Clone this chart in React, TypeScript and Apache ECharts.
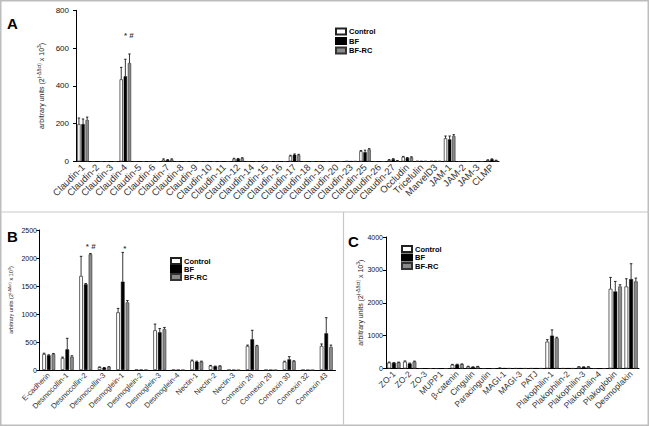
import React, { useEffect, useRef } from 'react';
import * as echarts from 'echarts';

const seriesNames = ['Control', 'BF', 'BF-RC'];

// ---------- Panel A ----------
const catsA = ['Claudin-1', 'Claudin-2', 'Claudin-3', 'Claudin-4', 'Claudin-5', 'Claudin-6', 'Claudin-7', 'Claudin-8', 'Claudin-9', 'Claudin-10', 'Claudin-11', 'Claudin-12', 'Claudin-14', 'Claudin-15', 'Claudin-16', 'Claudin-17', 'Claudin-18', 'Claudin-19', 'Claudin-20', 'Claudin-23', 'Claudin-25', 'Claudin-26', 'Claudin-27', 'Occludin', 'Tricelulin', 'MarvelD3', 'JAM-1', 'JAM-2', 'JAM-3', 'CLMP'];
const ctrlA = [198, 0, 0, 435, 0, 0, 10, 0, 0, 0, 0, 14, 0, 0, 0, 30, 0, 0, 0, 2, 55, 0, 8, 25, 3, 3, 123, 0, 0, 8];
const bfA = [198, 0, 0, 451, 0, 0, 8, 0, 0, 0, 0, 14, 0, 0, 0, 36, 0, 0, 0, 1, 49, 0, 12, 19, 3, 3, 117, 0, 0, 12];
const rcA = [220, 0, 0, 521, 0, 0, 11, 0, 0, 0, 0, 17, 0, 0, 0, 35, 0, 0, 0, 2, 64, 0, 4, 22, 3, 3, 135, 0, 0, 6];
const ctrlASd = [32, 0, 0, 63, 0, 0, 4, 0, 0, 0, 0, 3, 0, 0, 0, 3, 0, 0, 0, 0, 3, 0, 2, 2, 0, 0, 12, 0, 0, 1];
const bfASd = [27, 0, 0, 90, 0, 0, 2, 0, 0, 0, 0, 2, 0, 0, 0, 4, 0, 0, 0, 0, 11, 0, 3, 2, 0, 0, 18, 0, 0, 2];
const rcASd = [15, 0, 0, 48, 0, 0, 3, 0, 0, 0, 0, 3, 0, 0, 0, 3, 0, 0, 0, 0, 4, 0, 1, 3, 0, 0, 7, 0, 0, 1];
const ticksA = [0, 200, 400, 600, 800];

// ---------- Panel B ----------
const catsB = ['E-cadherin', 'Desmocollin-1', 'Desmocollin-2', 'Desmocollin-3', 'Desmoglein-1', 'Desmoglein-2', 'Desmoglein-3', 'Desmoglein-4', 'Nectin-1', 'Nectin-2', 'Nectin-3', 'Connexin 26', 'Connexin 29', 'Connexin 30', 'Connexin 32', 'Connexin 43'];
const ctrlB = [285, 214, 1679, 50, 1030, 5, 709, 2, 167, 77, 0, 429, 0, 149, 0, 429];
const bfB = [262, 369, 1530, 40, 1577, 5, 673, 2, 148, 65, 0, 548, 0, 190, 0, 655];
const rcB = [283, 238, 2066, 55, 1208, 5, 732, 2, 150, 70, 0, 429, 0, 157, 0, 411];
const ctrlBSd = [15, 16, 351, 5, 70, 0, 111, 0, 10, 5, 0, 16, 0, 8, 0, 36];
const bfBSd = [10, 197, 15, 5, 523, 0, 67, 0, 10, 5, 0, 161, 0, 48, 0, 279];
const rcBSd = [12, 17, 14, 5, 32, 0, 28, 0, 8, 5, 0, 11, 0, 8, 0, 34];
const ticksB = [0, 500, 1000, 1500, 2000, 2500];

// ---------- Panel C ----------
const catsC = ['ZO-1', 'ZO-2', 'ZO-3', 'MUPP1', 'β-catenin', 'Cingulin', 'Paracingulin', 'MAGI-1', 'MAGI-3', 'PATJ', 'Plakophilin-1', 'Plakophilin-2', 'Plakophilin-3', 'Plakophilin-4', 'Plakoglobin', 'Desmoplakin'];
const ctrlC = [180, 210, 0, 0, 115, 60, 0, 12, 5, 5, 818, 5, 50, 0, 2425, 2495];
const bfC = [170, 150, 0, 0, 120, 45, 0, 8, 5, 5, 1000, 5, 45, 0, 2343, 2720];
const rcC = [185, 210, 0, 0, 130, 60, 0, 6, 5, 5, 921, 5, 50, 0, 2495, 2648];
const ctrlCSd = [15, 20, 0, 0, 10, 10, 0, 3, 0, 0, 60, 0, 5, 0, 345, 235];
const bfCSd = [10, 15, 0, 0, 10, 5, 0, 0, 0, 0, 175, 0, 5, 0, 305, 467];
const rcCSd = [10, 15, 0, 0, 10, 5, 0, 0, 0, 0, 30, 0, 5, 0, 52, 102];
const ticksC = [0, 1000, 2000, 3000, 4000];

// annotations: [category index, value, text]
const annA = [[3, 665, '* #']];
const annB = [[2, 2200, '* #'], [4, 2173, '*']];

const FONT = 'Liberation Sans, Arial, Helvetica, sans-serif';
const barStyles = [
  { color: '#ffffff', borderColor: '#222', borderWidth: 0.7 },
  { color: '#000000', borderColor: '#000', borderWidth: 0.5 },
  { color: '#8a8a8a', borderColor: '#333', borderWidth: 0.6 },
];

const yName = 'arbitrary units (2{s|(-ΔΔct)} x 10{s|3})';

function panelSeries(g: number, vals: number[][], sds: number[][], bw: number, gapRatio: number, capW: number) {
  const out: any[] = [];
  vals.forEach((v, i) => {
    out.push({
      type: 'bar', name: seriesNames[i], xAxisIndex: g, yAxisIndex: g,
      data: v, barWidth: bw, barGap: gapRatio * 100 + '%',
      itemStyle: barStyles[i], silent: true,
    });
  });
  vals.forEach((v, i) => {
    out.push({
      type: 'custom', xAxisIndex: g, yAxisIndex: g, silent: true, z: 5,
      data: v.map((val, k) => [k, val, val + sds[i][k], sds[i][k]]),
      encode: { x: 0, y: 2 },
      renderItem: (params: any, api: any) => {
        const sd = api.value(3);
        if (!sd) return { type: 'group', children: [] };
        const k = api.value(0);
        const p0 = api.coord([k, api.value(1)]);
        const p1 = api.coord([k, api.value(2)]);
        const gap = bw * gapRatio;
        const total = 3 * bw + 2 * gap;
        const x = p0[0] - total / 2 + bw / 2 + i * (bw + gap);
        return {
          type: 'group',
          children: [
            { type: 'line', shape: { x1: x, y1: p0[1], x2: x, y2: p1[1] }, style: { stroke: '#000', lineWidth: 0.8 } },
            { type: 'line', shape: { x1: x - capW / 2, y1: p1[1], x2: x + capW / 2, y2: p1[1] }, style: { stroke: '#000', lineWidth: 0.8 } },
          ],
        };
      },
    });
  });
  return out;
}

function annSeries(g: number, ann: any[], dxs: number[]) {
  return {
    type: 'scatter', xAxisIndex: g, yAxisIndex: g, symbolSize: 0, silent: true, z: 6,
    data: ann.map((a, j) => ({ value: [a[0], a[1]], label: { formatter: a[2], offset: [dxs[j], 0] } })),
    label: { show: true, position: 'inside', color: '#000', fontSize: 8, fontWeight: 'bold', fontFamily: FONT },
  };
}

function xAxis(g: number, cats: string[], fs: number) {
  return {
    type: 'category', gridIndex: g, data: cats,
    axisLine: { lineStyle: { color: '#000', width: 1 } },
    axisTick: { alignWithLabel: true, length: 3, lineStyle: { color: '#000' } },
    axisLabel: { interval: 0, rotate: 45, fontSize: fs, color: '#333', margin: 4, fontFamily: FONT },
  };
}

function yAxis(g: number, ticks: number[], fs: number, margin: number, nameFs: number, nameGap: number) {
  return {
    type: 'value', gridIndex: g, min: ticks[0], max: ticks[ticks.length - 1], interval: ticks[1] - ticks[0],
    splitLine: { show: false },
    axisLine: { show: true, lineStyle: { color: '#000', width: 1 } },
    axisTick: { show: true, length: 3, lineStyle: { color: '#000' } },
    axisLabel: { fontSize: fs, color: '#111', margin, fontFamily: FONT, formatter: (v: number) => String(v) },
    name: yName, nameLocation: 'middle', nameGap,
    nameTextStyle: {
      fontSize: nameFs, color: '#222', fontFamily: FONT,
      rich: { s: { fontSize: nameFs * 0.7, verticalAlign: 'top', padding: [0, 0, nameFs * 0.5, 0], color: '#222', fontFamily: FONT } },
    },
  };
}

function legend(left: number, top: number, gap: number) {
  return {
    left, top, orient: 'vertical', data: seriesNames, itemWidth: 10, itemHeight: 6, itemGap: gap,
    icon: 'rect', selectedMode: false, padding: 0,
    textStyle: { fontSize: 7.5, lineHeight: 8, fontWeight: 'bold', color: '#000', fontFamily: FONT, padding: [0, 0, 0, -2] },
  };
}

export default function App() {
  const ref = useRef<HTMLDivElement>(null);
  useEffect(() => {
    if (!ref.current) return;
    const chart = echarts.init(ref.current, null, { renderer: 'svg' });
    const option: any = {
      animation: false,
      backgroundColor: '#fff',
      grid: [
        { left: 76, top: 10.3, width: 423, height: 151.2 },
        { left: 39.5, top: 230, width: 296, height: 140 },
        { left: 386, top: 237, width: 253, height: 131.5 },
      ],
      xAxis: [xAxis(0, catsA, 9.5), xAxis(1, catsB, 7.5), xAxis(2, catsC, 8.5)],
      yAxis: [yAxis(0, ticksA, 8, 7, 7, 30), yAxis(1, ticksB, 7, 2.5, 5.5, 25), yAxis(2, ticksC, 7, 3, 7, 21)],
      legend: [legend(335, 27.5, 1.5), legend(170, 257, 0), legend(401, 245, 0.5)],
      series: [
        ...panelSeries(0, [ctrlA, bfA, rcA], [ctrlASd, bfASd, rcASd], 3.3, 0.25, 2.4),
        ...panelSeries(1, [ctrlB, bfB, rcB], [ctrlBSd, bfBSd, rcBSd], 3.6, 0.3, 2.6),
        ...panelSeries(2, [ctrlC, bfC, rcC], [ctrlCSd, bfCSd, rcCSd], 3.8, 0.25, 2.6),
        annSeries(0, annA, [3.5]),
        annSeries(1, annB, [5, 2]),
      ],
      graphic: [
        { type: 'rect', shape: { x: 0.75, y: 0.75, width: 647.5, height: 424.5 }, style: { fill: 'none', stroke: '#bdbdbd', lineWidth: 1.5 }, silent: true },
        { type: 'line', shape: { x1: 0, y1: 212, x2: 649, y2: 212 }, style: { stroke: '#c8c8c8', lineWidth: 1.2 }, silent: true },
        { type: 'line', shape: { x1: 343.5, y1: 212, x2: 343.5, y2: 426 }, style: { stroke: '#c8c8c8', lineWidth: 1.2 }, silent: true },
        { type: 'text', left: 7, top: 16, style: { text: 'A', fontSize: 15, fontWeight: 'bold', fill: '#000', fontFamily: FONT } },
        { type: 'text', left: 7, top: 229, style: { text: 'B', fontSize: 15, fontWeight: 'bold', fill: '#000', fontFamily: FONT } },
        { type: 'text', left: 348, top: 234, style: { text: 'C', fontSize: 15, fontWeight: 'bold', fill: '#000', fontFamily: FONT } },
      ],
    };
    chart.setOption(option);
    return () => chart.dispose();
  }, []);
  return <div ref={ref} style={{ position: 'absolute', left: 0, top: 0, width: 649, height: 426 }} />;
}
